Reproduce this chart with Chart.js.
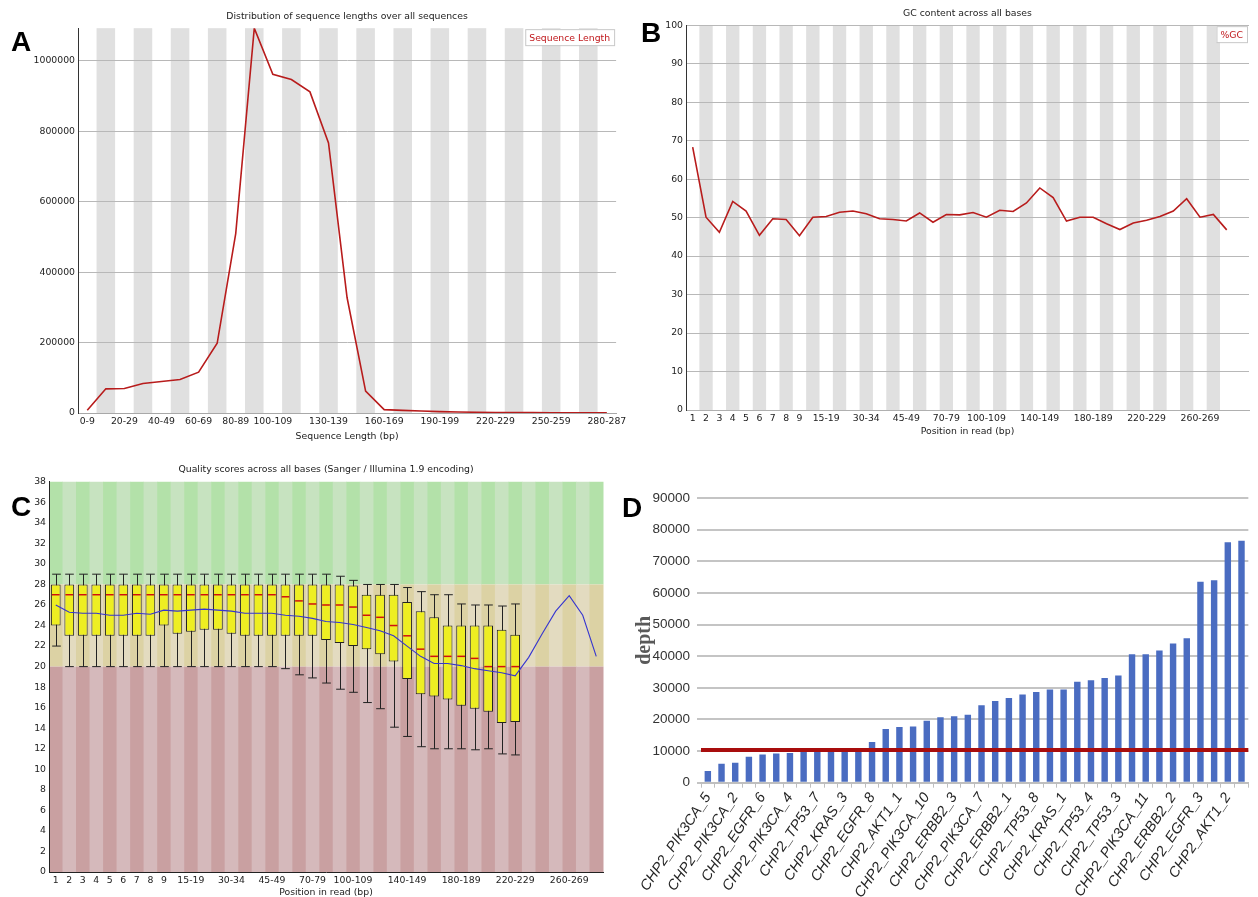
<!DOCTYPE html>
<html>
<head>
<meta charset="utf-8">
<script src="https://cdn.jsdelivr.net/npm/chart.js@4.4.1/dist/chart.umd.min.js"></script>
<style>
  html, body { margin: 0; padding: 0; background: #fff; width: 1258px; height: 897px; overflow: hidden; }
  canvas { position: absolute; }
  .letter { position: absolute; font: bold 28px "Liberation Sans", Arial, sans-serif; line-height: 28px; color: #000; }
</style>
</head>
<body>
<canvas id="chartA" width="630" height="448" style="left:0;top:0"></canvas>
<canvas id="chartB" width="628" height="448" style="left:630px;top:0"></canvas>
<canvas id="chartC" width="630" height="460" style="left:0;top:448px"></canvas>
<canvas id="chartD" width="628" height="449" style="left:630px;top:448px"></canvas>
<div class="letter" style="left:11px;top:28px">A</div>
<div class="letter" style="left:641px;top:19px">B</div>
<div class="letter" style="left:11px;top:493px">C</div>
<div class="letter" style="left:622px;top:494px">D</div>
<script>
// --- A : longueurs de séquences
const lengthBins = ['0-9','10-19','20-29','30-39','40-49','50-59','60-69','70-79','80-89','90-99',
  '100-109','110-119','120-129','130-139','140-149','150-159','160-169','170-179','180-189','190-199',
  '200-209','210-219','220-229','230-239','240-249','250-259','260-269','270-279','280-287'];
const lengthShown = [0, 2, 4, 6, 8, 10, 13, 16, 19, 22, 25, 28];
const lengthTicks = [0, 200000, 400000, 600000, 800000, 1000000];
const lengthCounts = [7600, 68600, 69500, 83800, 89500, 95200, 116000, 198000, 509500, 1093000,
  962000, 947000, 912000, 767000, 328000, 62000, 9500, 7500, 5500, 3800,
  3000, 2000, 1500, 1200, 1000, 900, 800, 700, 600];

// --- B / C : positions dans le read
const positionBins = ['1','2','3','4','5','6','7','8','9','10-14','15-19','20-24','25-29','30-34','35-39',
  '40-44','45-49','50-59','60-69','70-79','80-89','90-99','100-109','110-119','120-129','130-139',
  '140-149','150-159','160-169','170-179','180-189','190-199','200-209','210-219','220-229','230-239',
  '240-249','250-259','260-269','270-279','280-287'];
const positionShown = [0, 1, 2, 3, 4, 5, 6, 7, 8, 10, 13, 16, 19, 22, 26, 30, 34, 38];
const gcPercent = [68.3, 50.1, 46.2, 54.2, 51.7, 45.4, 49.7, 49.5, 45.3, 50.1, 50.3, 51.4, 51.7, 51.0,
  49.7, 49.5, 49.1, 51.2, 48.8, 50.8, 50.7, 51.3, 50.1, 51.9, 51.6, 53.8, 57.7, 55.2, 49.1, 50.1,
  50.1, 48.4, 46.9, 48.6, 49.3, 50.3, 51.7, 54.9, 50.1, 50.8, 46.8];

// qualité : déciles, quartiles, médiane, moyenne
const whiskerHigh = [29, 29, 29, 29, 29, 29, 29, 29, 29, 29, 29, 29, 29, 29, 29, 29, 29, 29, 29, 29,
  29, 28.8, 28.4, 28, 28, 28, 27.7, 27.3, 27, 27, 26.1, 26, 26, 25.9, 26.1, null, null, null, null, null, null];
const boxHigh = [28, 28, 28, 28, 28, 28, 28, 28, 28, 28, 28, 28, 28, 28, 28, 28, 28, 28, 28, 28,
  28, 28, 27.9, 27, 27, 27, 26.3, 25.4, 24.8, 24, 24, 24, 24, 23.6, 23.1, null, null, null, null, null, null];
const medianQ = [27, 27, 27, 27, 27, 27, 27, 27, 27, 27, 27, 27, 27, 27, 27, 27, 27, 26.8, 26.4, 26.1,
  26, 26, 25.8, 25, 24.8, 24, 23, 21.7, 21, 21, 21, 20.8, 20, 20, 20, null, null, null, null, null, null];
const boxLow = [24, 23, 23, 23, 23, 23, 23, 23, 24, 23.2, 23.4, 23.6, 23.6, 23.2, 23, 23, 23, 23, 23, 23,
  22.6, 22.3, 22, 21.7, 21.2, 20.5, 18.8, 17.3, 17.1, 16.8, 16.2, 15.9, 15.6, 14.5, 14.6, null, null, null, null, null, null];
const whiskerLow = [22, 20, 20, 20, 20, 20, 20, 20, 20, 20, 20, 20, 20, 20, 20, 20, 20, 19.8, 19.2, 18.9,
  18.4, 17.8, 17.5, 16.5, 15.9, 14.1, 13.2, 12.2, 12, 12, 12, 11.9, 12, 11.5, 11.4, null, null, null, null, null, null];
const meanQ = [26, 25.3, 25.2, 25.2, 25.0, 25.0, 25.2, 25.1, 25.5, 25.4, 25.5, 25.6, 25.5, 25.4, 25.2,
  25.2, 25.2, 25.0, 24.9, 24.7, 24.4, 24.3, 24.1, 23.8, 23.5, 23.0, 22.0, 21.0, 20.3, 20.3, 20.1,
  19.8, 19.6, 19.4, 19.1, 20.9, 23.2, 25.4, 26.9, 25.0, 21.0];
// zones : bonne / moyenne / mauvaise
const qualityZones = [
  { from: 28, to: 38, dark: '#b3e1a9', light: '#c7e3c0' },
  { from: 20, to: 28, dark: '#dcd2a4', light: '#e3dbc0' },
  { from: 0, to: 20, dark: '#c9a0a1', light: '#d5b9bb' }
];

// --- D : profondeur par amplicon
const ampliconNames = ['CHP2_PIK3CA_5', '', 'CHP2_PIK3CA_2', '', 'CHP2_EGFR_6', '', 'CHP2_PIK3CA_4', '',
  'CHP2_TP53_7', '', 'CHP2_KRAS_3', '', 'CHP2_EGFR_8', '', 'CHP2_AKT1_1', '', 'CHP2_PIK3CA_10', '',
  'CHP2_ERBB2_3', '', 'CHP2_PIK3CA_7', '', 'CHP2_ERBB2_1', '', 'CHP2_TP53_8', '', 'CHP2_KRAS_1', '',
  'CHP2_TP53_4', '', 'CHP2_TP53_3', '', 'CHP2_PIK3CA_11', '', 'CHP2_ERBB2_2', '', 'CHP2_EGFR_3', '',
  'CHP2_AKT1_2', ''];
const ampliconDepth = [3700, 6000, 6300, 8200, 8900, 9200, 9400, 9900, 10000, 10000, 10100, 10900, 12900,
  17000, 17600, 17800, 19600, 20700, 21000, 21500, 24500, 25800, 26800, 27900, 28700, 29500, 29500,
  31900, 32400, 33100, 33900, 40600, 40600, 41800, 44000, 45700, 63500, 64000, 76000, 76500];
const depthThreshold = 10300;

const fqFont = { family: 'DejaVu Sans', size: 9.3, weight: 'normal' };
const fqColor = '#222';

// bandes grises verticales (une catégorie sur deux)
function stripes(count) {
  return {
    id: 'stripes',
    beforeDraw(chart) {
      const { ctx, chartArea: a } = chart;
      const x = chart.scales.x;
      ctx.save();
      ctx.fillStyle = '#e0e0e0';
      for (let i = 1; i < count; i += 2) {
        const x0 = x.getPixelForValue(i - 0.5), x1 = x.getPixelForValue(i + 0.5);
        ctx.fillRect(x0, a.top, x1 - x0, a.bottom - a.top);
      }
      ctx.restore();
    }
  };
}

// petite légende encadrée en haut à droite
function legendBox(text) {
  return {
    id: 'legendBox',
    afterDraw(chart) {
      const { ctx, chartArea: a } = chart;
      ctx.save();
      ctx.font = '9.3px "DejaVu Sans"';
      const w = ctx.measureText(text).width + 8, h = 16;
      const x0 = a.right - w - 2, y0 = a.top + 1;
      ctx.fillStyle = '#fff';
      ctx.fillRect(x0, y0, w, h);
      ctx.strokeStyle = '#c8c8c8';
      ctx.lineWidth = 1;
      ctx.strokeRect(x0 + 0.5, y0 + 0.5, w, h);
      ctx.fillStyle = '#c0181c';
      ctx.textBaseline = 'middle';
      ctx.fillText(text, x0 + 4, y0 + h / 2 + 1);
      ctx.restore();
    }
  };
}

const baseOpts = {
  responsive: false,
  animation: false,
  events: []
};

// ---------- A
new Chart(document.getElementById('chartA'), {
  type: 'line',
  data: {
    labels: lengthBins,
    datasets: [{ data: lengthCounts, borderColor: '#b81c1c', borderWidth: 1.6, pointRadius: 0, tension: 0 }]
  },
  options: {
    ...baseOpts,
    layout: { padding: { left: 0, right: 8, top: 0, bottom: 0 } },
    plugins: {
      legend: { display: false },
      tooltip: { enabled: false },
      title: { display: true, fullSize: false, text: 'Distribution of sequence lengths over all sequences',
        font: fqFont, color: fqColor, padding: { top: 11.4, bottom: 5.6 } }
    },
    scales: {
      x: {
        offset: true,
        grid: { display: false, drawTicks: false },
        border: { color: '#a8a8a8' },
        ticks: { autoSkip: false, maxRotation: 0, minRotation: 0, padding: 3.5, font: fqFont, color: fqColor,
          callback: (v, i) => lengthShown.includes(i) ? lengthBins[i] : '' },
        title: { display: true, text: 'Sequence Length (bp)', font: fqFont, color: fqColor, padding: { top: 0, bottom: 5.4 } },
        afterFit(s) { s.height = 35; }
      },
      y: {
        min: 0,
        max: Math.max(...lengthCounts),
        afterBuildTicks(s) { s.ticks = lengthTicks.map(v => ({ value: v })); },
        ticks: { padding: 3, font: fqFont, color: fqColor, callback: v => String(v) },
        grid: { color: '#b8b8b8', drawTicks: false },
        border: { color: '#333' },
        afterFit(s) { s.width = 78; }
      }
    }
  },
  plugins: [stripes(lengthBins.length), legendBox('Sequence Length')]
});

// ---------- B
new Chart(document.getElementById('chartB'), {
  type: 'line',
  data: {
    datasets: [{ data: gcPercent.map((v, i) => ({ x: i, y: v })), borderColor: '#b81c1c', borderWidth: 1.6, pointRadius: 0, tension: 0 }]
  },
  options: {
    ...baseOpts,
    layout: { padding: { left: 0, right: 9, top: 0, bottom: 0 } },
    plugins: {
      legend: { display: false },
      tooltip: { enabled: false },
      title: { display: true, fullSize: false, text: 'GC content across all bases',
        font: fqFont, color: fqColor, padding: { top: 8.4, bottom: 5.6 } }
    },
    scales: {
      x: {
        type: 'linear',
        min: -0.5,
        max: 41.67,
        afterBuildTicks(s) { s.ticks = positionShown.map(i => ({ value: i })); },
        grid: { display: false, drawTicks: false },
        border: { color: '#b0b0b0' },
        ticks: { autoSkip: false, maxRotation: 0, minRotation: 0, padding: 3.5, font: fqFont, color: fqColor,
          callback: v => positionBins[v] },
        title: { display: true, text: 'Position in read (bp)', font: fqFont, color: fqColor, padding: { top: 0, bottom: 10.4 } },
        afterFit(s) { s.height = 38; }
      },
      y: {
        min: 0,
        max: 100,
        ticks: { stepSize: 10, padding: 3, font: fqFont, color: fqColor },
        grid: { color: '#b8b8b8', drawTicks: false },
        border: { color: '#333' },
        afterFit(s) { s.width = 56; }
      }
    }
  },
  plugins: [stripes(positionBins.length), legendBox('%GC')]
});

// ---------- C
const qualityPlugin = {
  id: 'qualityBoxes',
  beforeDraw(chart) {
    const { ctx } = chart;
    const x = chart.scales.x, y = chart.scales.y;
    ctx.save();
    for (let i = 0; i < positionBins.length; i++) {
      const x0 = x.getPixelForValue(i - 0.5), x1 = x.getPixelForValue(i + 0.5);
      qualityZones.forEach(z => {
        const y0 = y.getPixelForValue(z.to), y1 = y.getPixelForValue(z.from);
        ctx.fillStyle = i % 2 === 0 ? z.dark : z.light;
        ctx.fillRect(x0, y0, x1 - x0 + 0.5, y1 - y0);
      });
    }
    ctx.restore();
  },
  beforeDatasetsDraw(chart) {
    // moustaches (10e et 90e percentiles)
    const { ctx } = chart;
    const x = chart.scales.x, y = chart.scales.y;
    const slot = x.getPixelForValue(1) - x.getPixelForValue(0);
    ctx.save();
    ctx.strokeStyle = '#222';
    ctx.lineWidth = 1;
    for (let i = 0; i < whiskerLow.length; i++) {
      if (whiskerLow[i] == null) continue;
      const xc = Math.round(x.getPixelForValue(i)) + 0.5, half = slot * 0.32;
      const yl = y.getPixelForValue(whiskerLow[i]), yh = y.getPixelForValue(whiskerHigh[i]);
      ctx.beginPath();
      ctx.moveTo(xc, yl); ctx.lineTo(xc, yh);
      ctx.moveTo(xc - half, yl); ctx.lineTo(xc + half, yl);
      ctx.moveTo(xc - half, yh); ctx.lineTo(xc + half, yh);
      ctx.stroke();
    }
    ctx.restore();
  },
  afterDatasetDraw(chart, args) {
    if (args.index !== 1) return;
    // médianes
    const { ctx } = chart;
    const x = chart.scales.x, y = chart.scales.y;
    const slot = x.getPixelForValue(1) - x.getPixelForValue(0);
    ctx.save();
    ctx.strokeStyle = '#d01010';
    ctx.lineWidth = 1.5;
    for (let i = 0; i < medianQ.length; i++) {
      if (medianQ[i] == null) continue;
      const xc = x.getPixelForValue(i), half = slot * 0.36 - 1;
      const ym = y.getPixelForValue(medianQ[i]);
      ctx.beginPath();
      ctx.moveTo(xc - half, ym); ctx.lineTo(xc + half, ym);
      ctx.stroke();
    }
    ctx.restore();
  }
};

new Chart(document.getElementById('chartC'), {
  type: 'bar',
  data: {
    labels: positionBins,
    datasets: [
      { type: 'line', data: meanQ, borderColor: '#3535d0', borderWidth: 1.1, pointRadius: 0, tension: 0, order: 0 },
      { type: 'bar', data: boxLow.map((v, i) => v == null ? null : [v, boxHigh[i]]),
        backgroundColor: '#eeee22', borderColor: '#222', borderWidth: 1, borderSkipped: false,
        barPercentage: 0.72, categoryPercentage: 1, order: 1 }
    ]
  },
  options: {
    ...baseOpts,
    layout: { padding: { left: 0, right: 27, top: 0, bottom: 0 } },
    plugins: {
      legend: { display: false },
      tooltip: { enabled: false },
      title: { display: true, fullSize: false, text: 'Quality scores across all bases (Sanger / Illumina 1.9 encoding)',
        font: fqFont, color: fqColor, padding: { top: 16.4, bottom: 6.2 } }
    },
    scales: {
      x: {
        grid: { display: false, drawTicks: false },
        border: { color: '#222' },
        ticks: { autoSkip: false, maxRotation: 0, minRotation: 0, padding: 3, font: fqFont, color: fqColor,
          callback: (v, i) => positionShown.includes(i) ? positionBins[i] : '' },
        title: { display: true, text: 'Position in read (bp)', font: fqFont, color: fqColor, padding: { top: 0, bottom: 9.4 } },
        afterFit(s) { s.height = 36; }
      },
      y: {
        min: 0,
        max: 38,
        ticks: { stepSize: 2, padding: 3, font: fqFont, color: fqColor },
        grid: { display: false, drawTicks: false },
        border: { color: '#222' },
        afterFit(s) { s.width = 49; }
      }
    }
  },
  plugins: [qualityPlugin]
});

// ---------- D
const thresholdPlugin = {
  id: 'threshold',
  afterDatasetsDraw(chart) {
    const { ctx, chartArea: a } = chart;
    const yv = chart.scales.y.getPixelForValue(depthThreshold);
    ctx.save();
    ctx.strokeStyle = '#a80d0d';
    ctx.lineWidth = 4;
    ctx.beginPath();
    ctx.moveTo(a.left, yv); ctx.lineTo(a.right, yv);
    ctx.stroke();
    ctx.restore();
  }
};

new Chart(document.getElementById('chartD'), {
  type: 'bar',
  data: {
    labels: ampliconNames,
    datasets: [{ data: ampliconDepth, backgroundColor: '#4a6cc1', barPercentage: 0.47, categoryPercentage: 1 }]
  },
  options: {
    ...baseOpts,
    layout: { padding: { left: 0, right: 6, top: 50, bottom: 0 } },
    plugins: { legend: { display: false }, tooltip: { enabled: false } },
    scales: {
      x: {
        grid: { display: true, drawOnChartArea: false, drawTicks: true, tickLength: 5, color: '#bfbfbf' },
        border: { color: '#bfbfbf', width: 2 },
        ticks: { autoSkip: false, minRotation: 56, maxRotation: 56, padding: 2,
          font: { family: 'Liberation Sans', size: 14.5, style: 'italic' }, color: '#262626' },
        afterFit(s) { s.height = 114.3; }
      },
      y: {
        min: 0,
        max: 90000,
        ticks: { stepSize: 10000, padding: 7, font: { family: 'Liberation Sans', size: 13.5 }, color: '#333',
          callback: v => String(v) },
        grid: { color: '#c4c4c4', lineWidth: 2, tickLength: 4 },
        border: { display: false },
        title: { display: true, text: 'depth', color: '#595959',
          font: { family: 'Liberation Serif', size: 20, weight: 'bold' }, padding: { top: 3, bottom: 0 } },
        afterFit(s) { s.width = 71; }
      }
    }
  },
  plugins: [thresholdPlugin]
});
</script>
</body>
</html>
